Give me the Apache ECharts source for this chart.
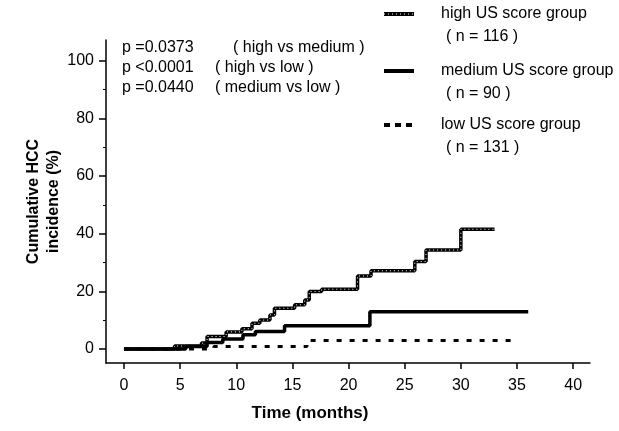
<!DOCTYPE html>
<html>
<head>
<meta charset="utf-8">
<script src="https://cdn.jsdelivr.net/npm/echarts@6/dist/echarts.min.js"></script>
<style>
  html, body { margin: 0; padding: 0; background: #fff; }
  #chart { width: 619px; height: 431px; }
</style>
</head>
<body>
<div id="chart"></div>
<script>
// Kaplan-Meier style step data: [month, cumulative incidence %]
const highData = [
  [0, 0], [4.5, 1.0], [6.9, 2.0], [7.4, 4.3], [9.1, 5.9], [10.5, 7.0],
  [11.4, 8.9], [12.1, 10.0], [13.0, 11.8], [13.4, 14.1], [15.2, 15.3],
  [16.1, 17.0], [16.5, 19.9], [17.6, 20.7], [20.8, 25.3], [22.0, 27.1],
  [25.9, 30.3], [26.9, 34.3], [30.0, 41.5], [33.0, 41.5]
];
const mediumData = [
  [0, 0], [5.5, 0.8], [7.4, 2.2], [8.8, 3.4], [10.6, 4.9], [11.7, 6.0],
  [14.3, 8.0], [21.9, 12.9], [36.0, 12.9]
];
const lowData = [
  [0, 0], [8.0, 0.8], [16.3, 2.9], [34.6, 2.9]
];

const xTicks = [0, 5, 10, 15, 20, 25, 30, 35, 40];
const yTicks = [0, 20, 40, 60, 80, 100];
const yMinorTicks = [10, 30, 50, 70, 90];

const legendNames = ["high US score group", "medium US score group", "low US score group"];
const legendCounts = ["( n = 116 )", "( n = 90 )", "( n = 131 )"];
const pValues = ["p =0.0373", "p <0.0001", "p =0.0440"];
const pLabels = ["( high vs medium )", "( high vs low )", "( medium vs low )"];

const FONT = "Liberation Sans, Arial, Helvetica, sans-serif";
const chart = echarts.init(document.getElementById("chart"));

function txt(text, x, y, size, weight, align) {
  return {
    type: "text",
    x: x,
    y: y,
    style: {
      text: text,
      fill: "#000",
      font: (weight || "normal") + " " + size + "px " + FONT,
      align: align || "left",
      verticalAlign: "middle"
    }
  };
}

const graphics = [];
// p values
const pY = [48, 68, 88];
const pLabelX = [233, 215, 215];
pValues.forEach((p, i) => {
  graphics.push(txt(p, 122, pY[i], 16));
  graphics.push(txt(pLabels[i], pLabelX[i], pY[i], 16));
});
// legend
const legY = [14, 71, 125];
legendNames.forEach((n, i) => {
  graphics.push(txt(n, 441, legY[i], 16));
  graphics.push(txt(legendCounts[i], 446, legY[i] + 23, 16));
});
graphics.push({ type: "line", shape: { x1: 384, y1: legY[0], x2: 414, y2: legY[0] },
  style: { stroke: "#000", lineWidth: 4 } });
graphics.push({ type: "line", shape: { x1: 384, y1: legY[0], x2: 414, y2: legY[0] },
  style: { stroke: "#fff", lineWidth: 1.2, lineDash: [1, 3] } });
graphics.push({ type: "line", shape: { x1: 384, y1: legY[1], x2: 414, y2: legY[1] },
  style: { stroke: "#000", lineWidth: 4 } });
graphics.push({ type: "line", shape: { x1: 384, y1: legY[2], x2: 414, y2: legY[2] },
  style: { stroke: "#000", lineWidth: 4, lineDash: [6, 5] } });
// x axis title
graphics.push(txt("Time (months)", 310, 413, 17, "bold", "center"));

const xMin = -1.6, xMax = 41.5, yMin = -4.9, yMax = 107.2;

chart.setOption({
  animation: false,
  backgroundColor: "#fff",
  grid: { left: 106, right: 29, top: 40, bottom: 68 },
  xAxis: {
    type: "value",
    min: xMin,
    max: xMax,
    splitLine: { show: false },
    axisLine: { onZero: false, lineStyle: { color: "#000", width: 1.5 } },
    axisTick: { customValues: xTicks, length: 6, lineStyle: { color: "#000", width: 1.5 } },
    axisLabel: { customValues: xTicks, color: "#000", fontSize: 16, fontFamily: FONT, margin: 15 }
  },
  yAxis: [
    {
      type: "value",
      min: yMin,
      max: yMax,
      splitLine: { show: false },
      axisLine: { show: true, onZero: false, lineStyle: { color: "#000", width: 1.5 } },
      axisTick: { show: true, customValues: yTicks, length: 7, lineStyle: { color: "#000", width: 1.5 } },
      axisLabel: { customValues: yTicks, color: "#000", fontSize: 16, fontFamily: FONT, margin: 12 },
      name: "Cumulative HCC\nincidence (%)",
      nameLocation: "middle",
      nameRotate: 90,
      nameGap: 42,
      nameMoveOverlap: false,
      nameTextStyle: { color: "#000", fontSize: 16, fontWeight: "bold", fontFamily: FONT, lineHeight: 20 }
    },
    {
      type: "value",
      min: yMin,
      max: yMax,
      position: "left",
      splitLine: { show: false },
      axisLine: { show: false, onZero: false },
      axisTick: { show: true, customValues: yMinorTicks, length: 3, lineStyle: { color: "#000", width: 1 } },
      axisLabel: { show: false }
    }
  ],
  series: [
    {
      name: "high",
      type: "line",
      step: "end",
      symbol: "none",
      data: highData,
      lineStyle: { color: "#000", width: 3.5 }
    },
    {
      name: "high-texture",
      type: "line",
      step: "end",
      symbol: "none",
      data: highData,
      lineStyle: { color: "#fff", width: 1, type: [1, 3] },
      z: 3
    },
    {
      name: "medium",
      type: "line",
      step: "end",
      symbol: "none",
      data: mediumData,
      lineStyle: { color: "#000", width: 3.5 }
    },
    {
      name: "low",
      type: "line",
      step: "end",
      symbol: "none",
      data: lowData,
      lineStyle: { color: "#000", width: 3, type: [5, 8] }
    }
  ],
  graphic: graphics
});
</script>
</body>
</html>
